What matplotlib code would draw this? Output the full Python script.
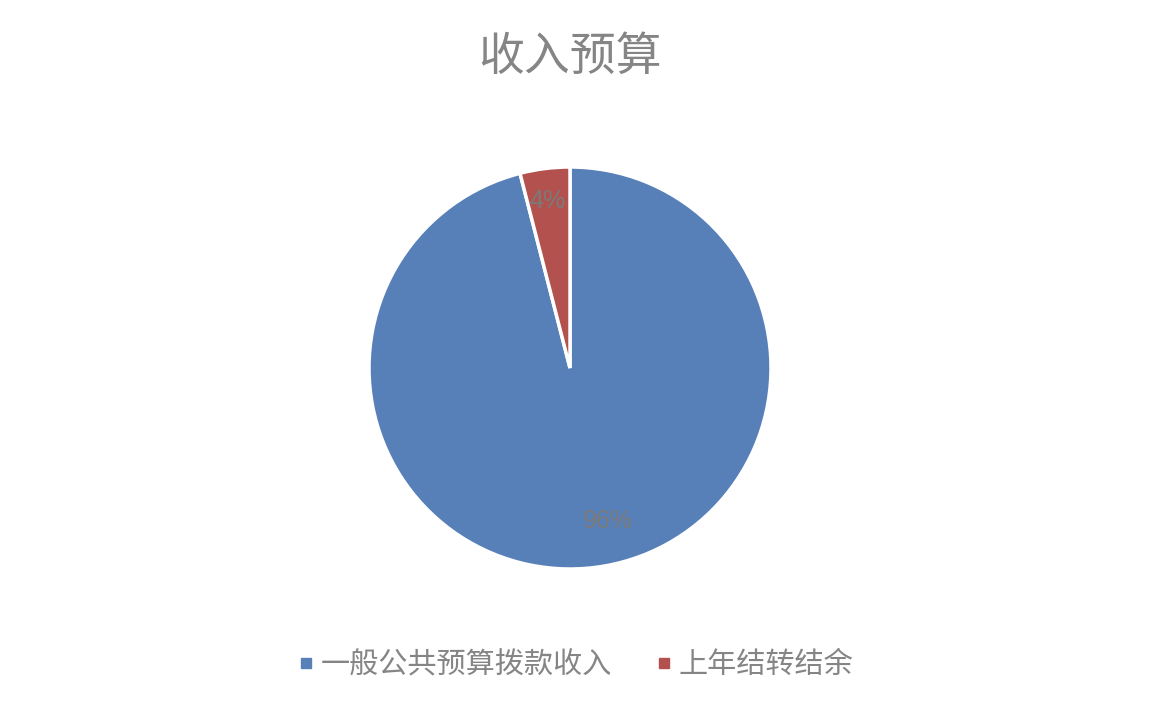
import matplotlib
matplotlib.use("Agg")
import matplotlib.pyplot as plt
from matplotlib.lines import Line2D
import numpy as np

plt.rcParams['font.family'] = ['Noto Sans CJK SC', 'DejaVu Sans']

title = "收入预算"
categories = ["一般公共预算拨款收入", "上年结转结余"]
values = [96, 4]
colors = ["#5880B8", "#B3514E"]
text_gray = "#858585"

W, H = 1164, 724
fig = plt.figure(figsize=(W / 100, H / 100), dpi=100)
fig.patch.set_facecolor("white")

cx, cy, r = 570, 368, 201
ax = fig.add_axes([(cx - r) / W, (H - cy - r) / H, 2 * r / W, 2 * r / H])

wedges, texts, autotexts = ax.pie(
    values, colors=colors, startangle=90, counterclock=False, radius=1,
    autopct=lambda p: f"{p:.0f}%", pctdistance=0.8,
    wedgeprops=dict(edgecolor="white", linewidth=2.5),
    textprops=dict(color="#7A7A7A", fontsize=18, family=["Liberation Sans", "DejaVu Sans"]),
)
ax.set_xlim(-1, 1)
ax.set_ylim(-1, 1)
ax.set_aspect("equal")
ax.axis("off")
# Excel-like label placement
autotexts[0].set_position((0.19, -0.76))
autotexts[1].set_position((-0.11, 0.83))

fig.text(cx / W, 1 - 57 / H, title, ha="center", va="center",
         fontsize=33, color=text_gray)

handles = [Line2D([0], [0], marker="s", linestyle="none", markersize=6.5,
                  markerfacecolor=c, markeredgecolor=c) for c in colors]
leg = fig.legend(handles, categories, loc="center",
                 bbox_to_anchor=(575.5 / W, 1 - 665 / H), ncol=2, frameon=False,
                 fontsize=21, handlelength=0.6, handletextpad=0.2,
                 columnspacing=1.5)
for t in leg.get_texts():
    t.set_color(text_gray)

fig.savefig("out.png", dpi=100, facecolor="white")
